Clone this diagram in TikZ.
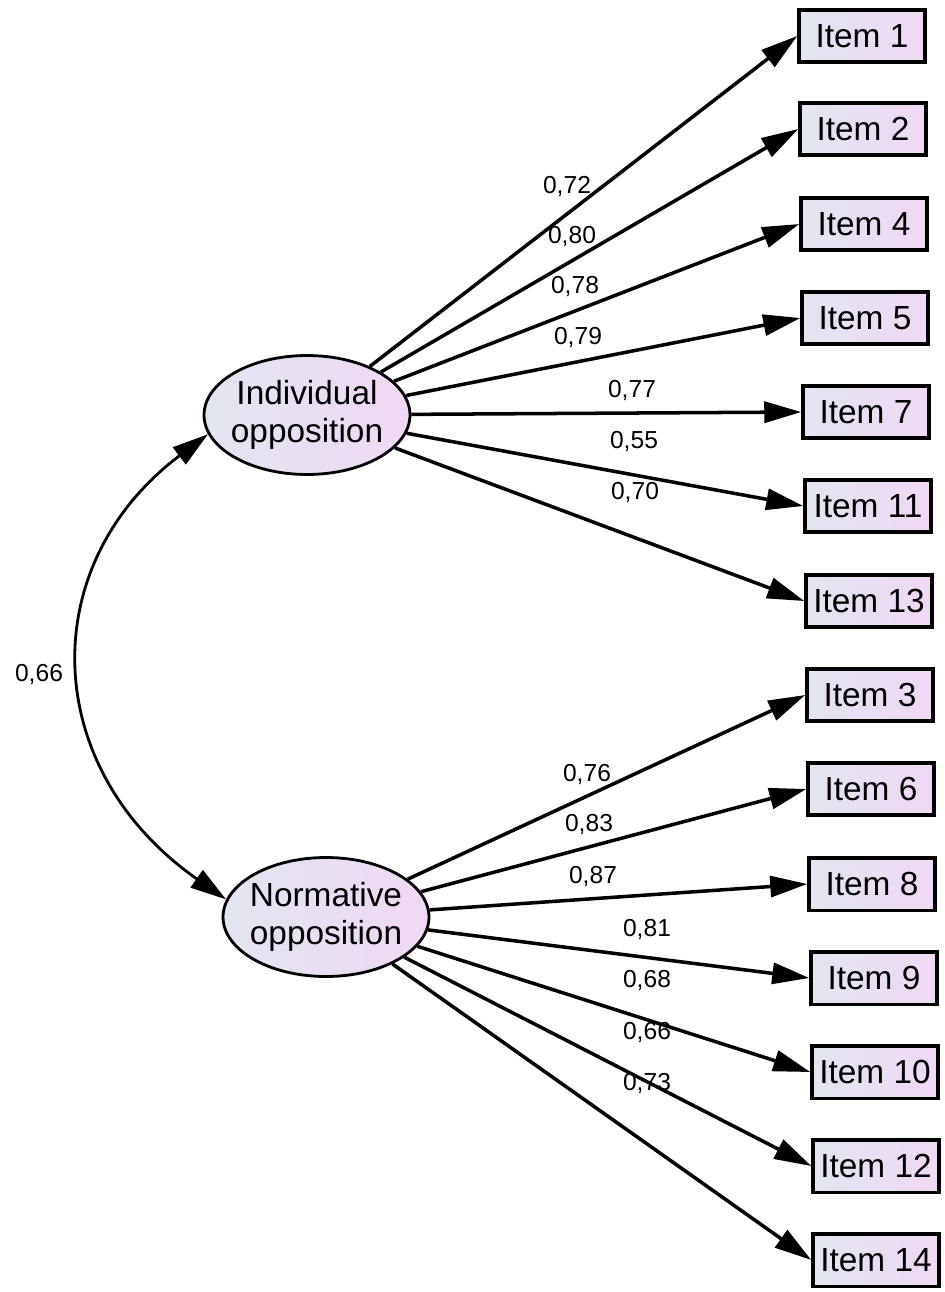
\documentclass[tikz,border=0pt]{standalone}
\usepackage{fontspec}
\setmainfont{Liberation Sans}
\usetikzlibrary{arrows.meta,shapes.geometric}
\definecolor{shadeL}{RGB}{226,230,240}
\definecolor{shadeR}{RGB}{240,216,244}

\begin{document}
\begin{tikzpicture}[x=0.02cm,y=-0.02cm,
    latent/.style={ellipse,draw,line width=1.6pt,minimum width=4.12cm,minimum height=2.38cm,inner xsep=-2.2pt,inner ysep=0pt,
      left color=shadeL,right color=shadeR,align=center,font=\fontsize{19}{21.5}\selectfont},
    item/.style={rectangle,draw,line width=2pt,minimum width=2.52cm,minimum height=1.05cm,inner sep=0pt,
      left color=shadeL,right color=shadeR,font=\fontsize{19}{21}\selectfont},
    load/.style={line width=2pt,-{Triangle[length=0.74cm,width=0.42cm]}},
    cov/.style={line width=1.6pt,{Triangle[length=0.72cm,width=0.42cm]}-{Triangle[length=0.72cm,width=0.42cm]}},
    wt/.style={font=\fontsize{14}{16}\selectfont,inner sep=0pt}]
      \useasboundingbox (0,0) rectangle (945,1292);
      % latent factors
      \node[latent] (ind) at (307,415) {Individual\\opposition};
      \node[latent] (norm) at (326,917) {Normative\\opposition};
      % observed items
      \node[item] (i1) at (862,36) {Item 1};
      \node[item] (i2) at (863,129) {Item 2};
      \node[item] (i4) at (864,224) {Item 4};
      \node[item] (i5) at (865,318) {Item 5};
      \node[item] (i7) at (866,412) {Item 7};
      \node[item] (i11) at (868,506) {Item 11};
      \node[item] (i13) at (869,601) {Item 13};
      \node[item] (i3) at (870,695) {Item 3};
      \node[item] (i6) at (871,789) {Item 6};
      \node[item] (i8) at (872,884) {Item 8};
      \node[item] (i9) at (874,978) {Item 9};
      \node[item] (i10) at (875,1072) {Item 10};
      \node[item] (i12) at (876,1166) {Item 12};
      \node[item] (i14) at (876,1260) {Item 14};
      % loadings
      \draw[load] (ind) -- (i1.west);
      \draw[load] (ind) -- (i2.west);
      \draw[load] (ind) -- (i4.west);
      \draw[load] (ind) -- (i5.west);
      \draw[load] (ind) -- (i7.west);
      \draw[load] (ind) -- (i11.west);
      \draw[load] (ind) -- (i13.west);
      \draw[load] (norm) -- (i3.west);
      \draw[load] (norm) -- (i6.west);
      \draw[load] (norm) -- (i8.west);
      \draw[load] (norm) -- (i9.west);
      \draw[load] (norm) -- (i10.west);
      \draw[load] (norm) -- (i12.west);
      \draw[load] (norm) -- (i14.west);
      \node[wt] (w1) at (567,186) {0,72};
      \node[wt] (w2) at (572,236) {0,80};
      \node[wt] (w4) at (575,286) {0,78};
      \node[wt] (w5) at (578,337) {0,79};
      \node[wt] (w7) at (632,390) {0,77};
      \node[wt] (w11) at (634,441) {0,55};
      \node[wt] (w13) at (635,492) {0,70};
      \node[wt] (w3) at (587,774) {0,76};
      \node[wt] (w6) at (589,824) {0,83};
      \node[wt] (w8) at (593,876) {0,87};
      \node[wt] (w9) at (647,929) {0,81};
      \node[wt] (w10) at (647,980) {0,68};
      \node[wt] (w12) at (647,1032) {0,66};
      \node[wt] (w14) at (647,1083) {0,73};
      % correlation
      \draw[cov] (norm.170) to[out=145,in=217,out distance=4.55cm,in distance=4.35cm] (ind.191);
      \node[wt] (wc) at (39,674) {0,66};
    \end{tikzpicture}
\end{document}
